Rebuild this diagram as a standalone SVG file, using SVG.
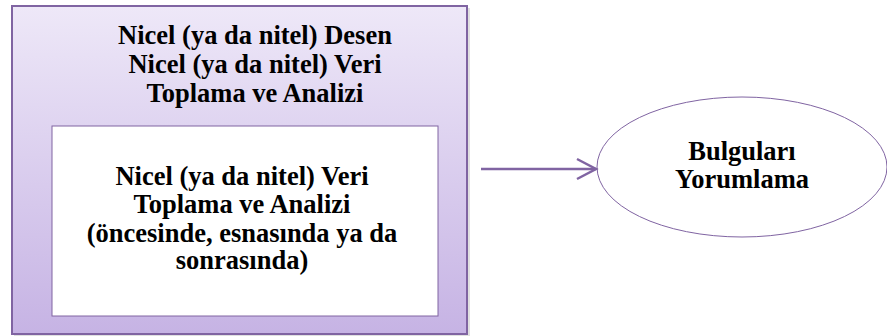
<svg xmlns="http://www.w3.org/2000/svg" width="887" height="336" viewBox="0 0 887 336" xml:lang="en">
<defs>
<linearGradient id="g" x1="0" y1="0" x2="0" y2="1">
<stop offset="0" stop-color="#EEE8F8"/>
<stop offset="1" stop-color="#C6B3E4"/>
</linearGradient>
<marker id="arr" viewBox="0 0 24 24" markerWidth="24" markerHeight="24" refX="21" refY="12" markerUnits="userSpaceOnUse" orient="auto">
<path d="M2,2 L21,12 L2,22" fill="none" stroke="#8064A2" stroke-width="2.5"/>
</marker>
</defs>
<rect width="887" height="336" fill="#fff"/>
<g id="outer">
<rect x="14" y="8" width="456" height="328" fill="#000" opacity="0.12"/>
<rect x="12" y="6" width="455" height="328" fill="url(#g)" stroke="#8064A2" stroke-width="2"/>
<g font-family="Liberation Serif, Times New Roman, serif" font-weight="bold" font-size="26.5" text-anchor="middle">
<text x="255" y="44">Nicel (ya da nitel) Desen</text>
<text x="255" y="73">Nicel (ya da nitel) Veri</text>
<text x="255" y="102">Toplama ve Analizi</text>
</g>
</g>
<g id="inner">
<rect x="52" y="126" width="386" height="190" fill="#fff" stroke="#8064A2" stroke-width="1"/>
<g font-family="Liberation Serif, Times New Roman, serif" font-weight="bold" font-size="26.5" text-anchor="middle">
<text x="242" y="185">Nicel (ya da nitel) Veri</text>
<text x="242" y="213">Toplama ve Analizi</text>
<text x="242" y="242">(&#246;ncesinde, esnas&#305;nda ya da</text>
<text x="242" y="269">sonras&#305;nda)</text>
</g>
</g>
<g id="result">
<ellipse cx="742" cy="167" rx="145" ry="70" fill="#fff" stroke="#8064A2" stroke-width="1"/>
<g font-family="Liberation Serif, Times New Roman, serif" font-weight="bold" font-size="26.5" text-anchor="middle">
<text x="742" y="160">Bulgular&#305;</text>
<text x="742" y="188">Yorumlama</text>
</g>
</g>
<g id="connectors">
<line x1="481" y1="169" x2="596" y2="169" stroke="#8064A2" stroke-width="2.5" marker-end="url(#arr)"/>
</g>
</svg>
